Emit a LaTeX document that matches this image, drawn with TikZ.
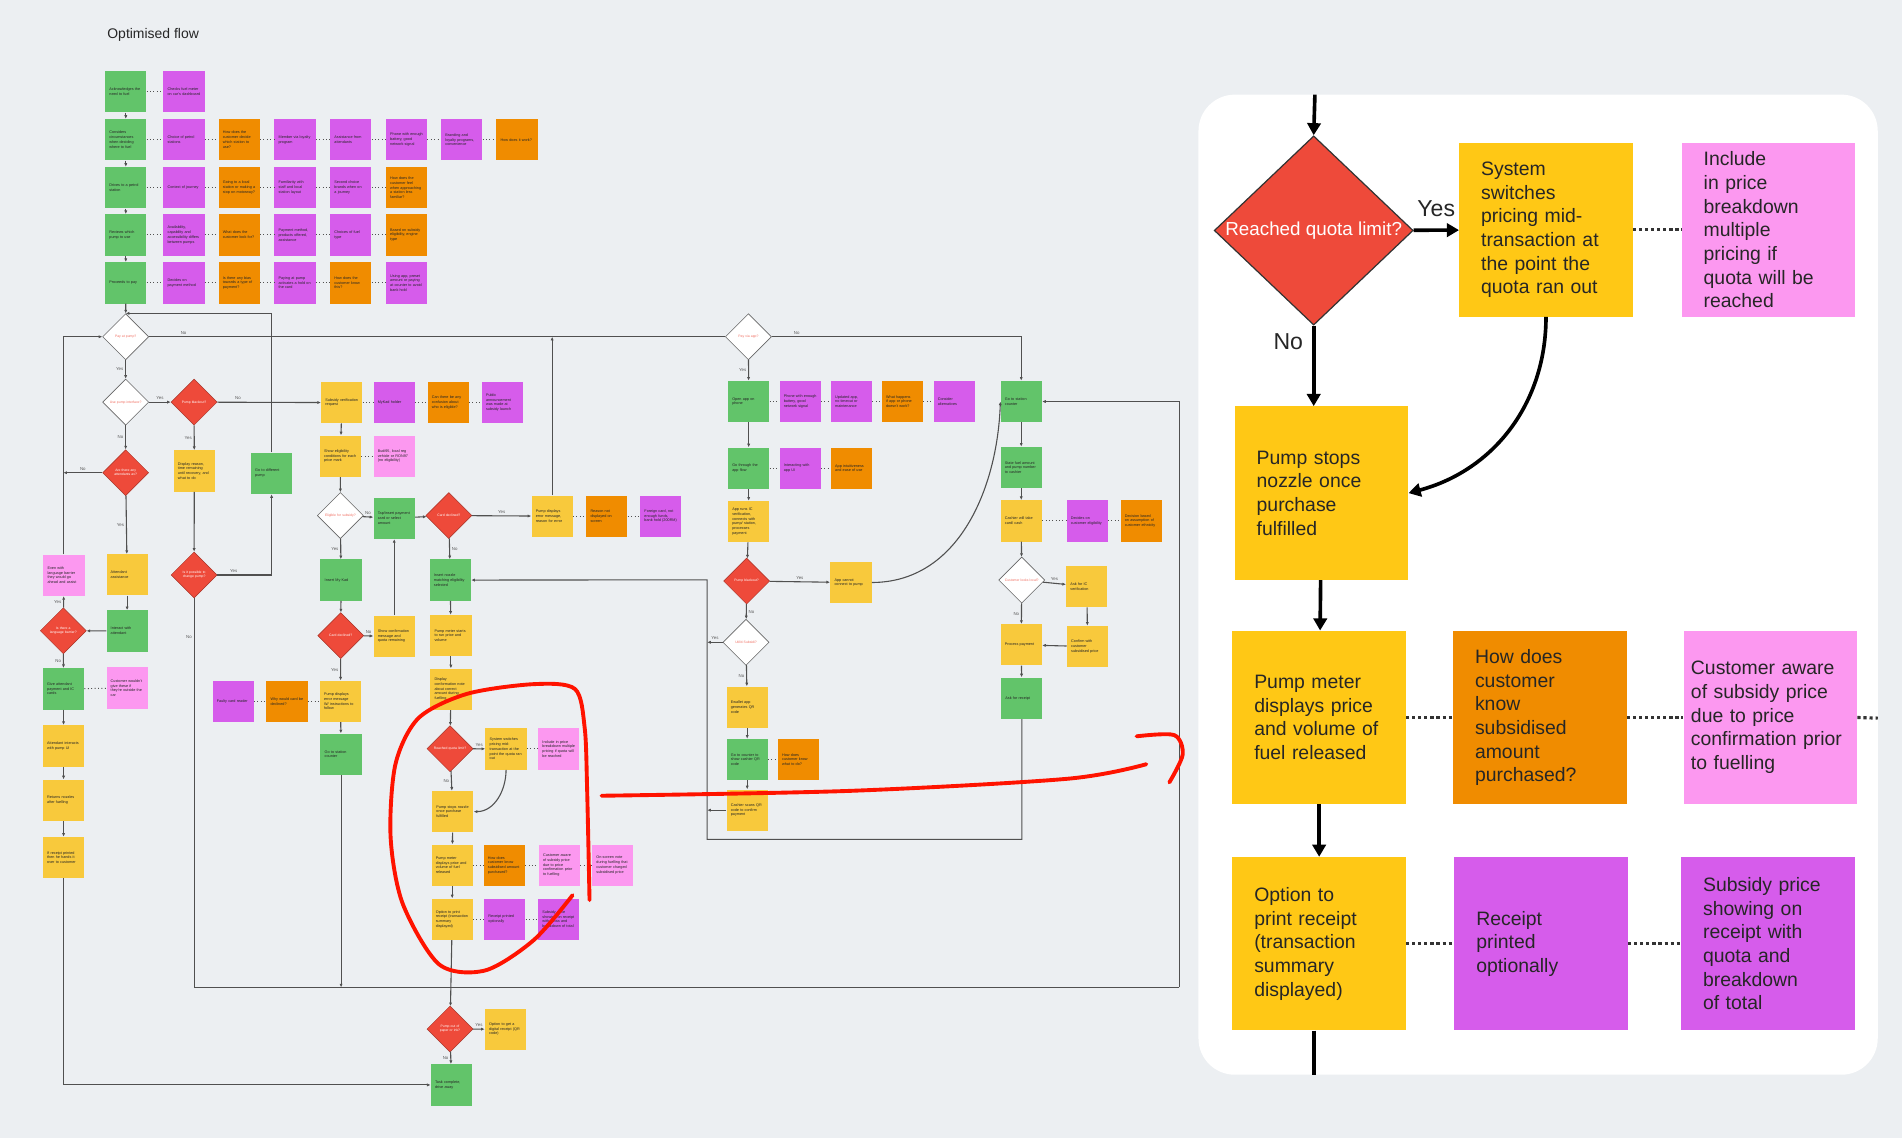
\documentclass[tikz,border=0pt]{standalone}
\usepackage{fontspec}
\setmainfont{Liberation Sans}
\usetikzlibrary{shapes.geometric,arrows.meta}
\hyphenpenalty=10000
\exhyphenpenalty=0
\definecolor{bgc}{HTML}{ECEFF2}
\definecolor{gr}{HTML}{62C46A}
\definecolor{pu}{HTML}{D65CEB}
\definecolor{og}{HTML}{F08C00}
\definecolor{pk}{HTML}{FC98F0}
\definecolor{ye}{HTML}{F8C93C}
\definecolor{yb}{HTML}{FFC815}
\definecolor{rd}{HTML}{EE4A3A}
\definecolor{ln}{HTML}{505050}
\tikzset{
  note/.style={anchor=north west, minimum width=34, minimum height=34, text width=27, inner xsep=3.5, inner ysep=1,
    align=left, font=\fontsize{3.1}{3.9}\selectfont\raggedright, text=black!85},
  dia/.style={diamond, minimum width=38, minimum height=38, inner sep=0},
  wdia/.style={dia, fill=white, draw=gray!80!black, line width=0.5,
    label={[font=\fontsize{2.8}{3.4}\selectfont, text=rd!80, align=center, text width=30]center:#1}},
  rdia/.style={dia, fill=rd, draw=rd!70!black, line width=0.4,
    label={[font=\fontsize{2.8}{3.4}\selectfont, text=white, align=center, text width=32]center:#1}},
  flow/.style={draw=ln, line width=0.9, -{Latex[length=3pt,width=2.6pt]}},
  wire/.style={draw=ln, line width=0.9},
  dots/.style={draw=ln, line width=0.8, dotted},
  lbl/.style={font=\fontsize{3.6}{4}\selectfont, text=gray!70!black, inner sep=1.5},
  big/.style={minimum height=143, minimum width=143, text width=107, inner xsep=18, align=left,
    font=\fontsize{16}{19.5}\selectfont\raggedright, text=black!85},
  bigflow/.style={draw=black, line width=3, -{Triangle[length=10pt,width=11pt]}},
  bigdots/.style={draw=black!80, line width=2.6, dash pattern=on 2.6pt off 2.4pt},
  redpen/.style={draw=red!85!orange, line width=3.2, line cap=round, line join=round},
}
\newcommand{\nt}[5]{\node[note, fill=#4] (#1) at (#2,#3) {#5};}
\begin{document}
\begin{tikzpicture}[x=1pt, y=-1pt]
  \useasboundingbox (0,0) rectangle (1568,938);
  \fill[bgc] (0,0) rectangle (1568,938);
  \fill[white, rounded corners=30] (988,78) rectangle (1548,886);
  \node[anchor=west, font=\fontsize{11.5}{13}\selectfont, text=black!85] (title) at (85,29) {Optimised flow};

  % journey rows
  \nt{a1}{86.5}{58.5}{gr}{Acknowledges the need to fuel}
  \nt{a2}{134.5}{58.5}{pu}{Checks fuel meter on car's dashboard}
  \nt{b1}{86.5}{98}{gr}{Considers circumstances when deciding where to fuel}
  \nt{b2}{134.5}{98}{pu}{Choice of petrol stations}
  \nt{b3}{180}{98}{og}{How does the customer decide which station to use?}
  \nt{b4}{226}{98}{pu}{Member via loyalty program}
  \nt{b5}{272}{98}{pu}{Assistance from attendants}
  \nt{b6}{318}{98}{pu}{Phone with enough battery, good network signal}
  \nt{b7}{363.5}{98}{pu}{Branding and loyalty programs, convenience}
  \nt{b8}{409}{98}{og}{How does it work?}
  \nt{c1}{86.5}{137.5}{gr}{Drives to a petrol station}
  \nt{c2}{134.5}{137.5}{pu}{Context of journey}
  \nt{c3}{180}{137.5}{og}{Going to a local station or making a stop on motorway?}
  \nt{c4}{226}{137.5}{pu}{Familiarity with staff and local station layout}
  \nt{c5}{272}{137.5}{pu}{Second choice brands when on a journey}
  \nt{c6}{318}{137.5}{og}{How does the customer feel when approaching a station less familiar?}
  \nt{d1}{86.5}{176.5}{gr}{Reviews which pump to use}
  \nt{d2}{134.5}{176.5}{pu}{Availability, capability and accessibility differs between pumps}
  \nt{d3}{180}{176.5}{og}{What does the customer look for?}
  \nt{d4}{226}{176.5}{pu}{Payment method, products offered, assistance}
  \nt{d5}{272}{176.5}{pu}{Choices of fuel type}
  \nt{d6}{318}{176.5}{og}{Based on subsidy eligibility, engine type}
  \nt{e1}{86.5}{216}{gr}{Proceeds to pay}
  \nt{e2}{134.5}{216}{pu}{Decides on payment method}
  \nt{e3}{180}{216}{og}{Is there any bias towards a type of payment?}
  \nt{e4}{226}{216}{pu}{Paying at pump activates a hold on the card}
  \nt{e5}{272}{216}{og}{How does the customer know this?}
  \nt{e6}{318}{216}{pu}{Using app, preset amount or paying at counter to avoid bank hold}

  % decisions
  \node[wdia={Pay at pump?}] (paypump) at (103.6,277.6) {};
  \node[wdia={Use pump interface?}] (usepump) at (103.6,331.5) {};
  \node[rdia={Pump blackout?}] (blackout) at (160,331.5) {};
  \node[rdia={Are there any attendants av?}] (attend) at (103.6,389.7) {};
  \node[rdia={Is it possible to change pump?}] (change) at (160,474) {};
  \node[rdia={Is there a language barrier?}] (lang) at (52.2,520) {};
  \node[wdia={Eligible for subsidy?}] (eligible) at (280.6,425) {};
  \node[rdia={Card declined?}] (declinedA) at (370,425) {};
  \node[rdia={Card declined?}] (declinedB) at (280.9,524) {};
  \node[rdia={Reached quota limit?}] (quota) at (371,617.2) {};
  \node[rdia={Pump out of paper or ink?}] (paper) at (371,848.3) {};
  \node[wdia={Pay via app?}] (payapp) at (617,277.6) {};
  \node[rdia={Pump blackout?}] (blackapp) at (615.5,479) {};
  \node[wdia={Utiliti Subsidi?}] (utiliti) at (615,529.5) {};
  \node[wdia={Customer looks local?}] (local) at (842.3,478.2) {};

  % pump and attendant
  \nt{reason}{143}{371}{ye}{Display reason, time remaining until recovery, and what to do}
  \nt{diffpump}{206.7}{373}{gr}{Go to different pump}
  \nt{assist}{87.6}{456.7}{ye}{Attendant assistance}
  \nt{barrier}{35.5}{457}{pk}{Even with language barrier they would go ahead and assist}
  \nt{interact}{87.6}{503}{gr}{Interact with attendant}
  \nt{give}{35.2}{550.7}{gr}{Give attendant payment and IC cards}
  \nt{wouldnt}{87.6}{550}{pk}{Customer wouldn't give these if they're outside the car}
  \nt{uiattend}{35.2}{597.7}{ye}{Attendant interacts with pump UI}
  \nt{nozzles}{35.2}{642.5}{ye}{Returns nozzles after fuelling}
  \nt{handover}{35.2}{689.8}{ye}{If receipt printed then he hands it over to customer}
  \nt{faulty}{175}{561}{pu}{Faulty card reader}
  \nt{whydecl}{219.3}{561}{og}{Why would card be declined?}
  \nt{errwi}{263.5}{561}{ye}{Pump displays error message W/ instructions to follow}
  \nt{countA}{264}{604.6}{gr}{Go to station counter}

  % subsidy
  \nt{subsidy}{264.6}{314.7}{ye}{Subsidy verification request}
  \nt{mykad}{307.8}{314.7}{pu}{MyKad holder}
  \nt{confusion}{352.3}{314.7}{og}{Can there be any confusion about who is eligible?}
  \nt{public}{397}{314.7}{pu}{Public announcement was made at subsidy launch}
  \nt{showelig}{263.5}{358.9}{ye}{Show eligibility conditions for each price mark}
  \nt{budi}{307.8}{358.9}{pk}{Budi95, local reg vehicle or RON97 (no eligibility)}
  \nt{tap}{307.8}{410}{gr}{Tap/insert payment card or select amount}
  \nt{errreason}{438}{408.3}{ye}{Pump displays error message, reason for error}
  \nt{notdisp}{483.1}{408.3}{og}{Reason not displayed on screen}
  \nt{foreign}{527.6}{408.3}{pu}{Foreign card, not enough funds, bank hold (200RM)}
  \nt{inskad}{264}{461}{gr}{Insert My Kad}
  \nt{insnoz}{354}{461}{gr}{Insert nozzle matching eligibility selected}
  \nt{showconf}{307.8}{507.3}{ye}{Show confirmation message and quota remaining}
  \nt{meterrun}{354.5}{506.8}{ye}{Pump meter starts to run price and volume}
  \nt{conform}{354.5}{551}{ye}{Display conformation note about correct amount during fuelling}
  \nt{switch}{400}{600.2}{ye}{System switches pricing mid-transaction at the point the quota ran out}
  \nt{include}{443.5}{600.2}{pk}{Include in price breakdown multiple pricing if quota will be reached}
  \nt{stops}{356.1}{651.9}{ye}{Pump stops nozzle once purchase fulfilled}
  \nt{meterdisp}{355.6}{696}{ye}{Pump meter displays price and volume of fuel released}
  \nt{howknow}{398.5}{696}{og}{How does customer know subsidised amount purchased?}
  \nt{aware}{444}{696}{pk}{Customer aware of subsidy price due to price confirmation prior to fuelling}
  \nt{onscreen}{488}{696}{pk}{On-screen note during fuelling that customer charged subsidised price}
  \nt{printopt}{355.6}{740.6}{ye}{Option to print receipt (transaction summary displayed)}
  \nt{printed}{399}{740.6}{pu}{Receipt printed optionally}
  \nt{shown}{443.5}{740.6}{pu}{Subsidy price showing on receipt with quota and breakdown of total}
  \nt{digital}{399.6}{831.3}{ye}{Option to get a digital receipt (QR code)}
  \nt{task}{355}{877.2}{gr}{Task complete, drive away}

  % app and counter
  \nt{openapp}{600}{313.8}{gr}{Open app on phone}
  \nt{battery}{642.5}{313.8}{pu}{Phone with enough battery, good network signal}
  \nt{updated}{684.8}{313.8}{pu}{Updated app, no timeout or maintenance}
  \nt{whathap}{726.8}{313.8}{og}{What happens if app or phone doesn't work?}
  \nt{consider}{769.4}{313.8}{pu}{Consider alternatives}
  \nt{appflow}{600}{368.8}{gr}{Go through the app flow}
  \nt{appui}{642.5}{368.8}{pu}{Interacting with app UI}
  \nt{intuit}{684.8}{368.8}{og}{App intuitiveness and ease of use}
  \nt{appruns}{600}{412.8}{ye}{App runs IC verification, connects with pump/ station, processes payment}
  \nt{cannot}{684.3}{463}{ye}{App cannot connect to pump}
  \nt{ewallet}{598.8}{565.8}{ye}{Ewallet app generates QR code}
  \nt{gocounter}{598.8}{609}{gr}{Go to counter to show cashier QR code}
  \nt{whatdo}{641.1}{609}{og}{How does customer know what to do?}
  \nt{scans}{598.8}{650.7}{ye}{Cashier scans QR code to confirm payment}
  \nt{countB}{824.7}{313.8}{gr}{Go to station counter}
  \nt{state}{824.7}{368.2}{gr}{State fuel amount and pump number to cashier}
  \nt{cashier}{824.7}{412.2}{ye}{Cashier will take card/ cash}
  \nt{decides}{879.1}{412.2}{pu}{Decides on customer eligibility}
  \nt{ethnic}{923.6}{412.2}{og}{Decision based on assumption of customer ethnicity}
  \nt{askic}{878.8}{466.3}{ye}{Ask for IC verification}
  \nt{confirm}{879.4}{515.8}{ye}{Confirm with customer subsidised price}
  \nt{process}{824.7}{514.4}{ye}{Process payment}
  \nt{receipt}{825.2}{558.4}{gr}{Ask for receipt}

  \coordinate (lowR) at (972,814);
  \coordinate (merge) at (583,478);
  \coordinate (mergeB) at (583,692);

  \foreach \p/\q in {a1/a2, b1/b2, b2/b3, b3/b4, b4/b5, b5/b6, b6/b7, b7/b8,
    c1/c2, c2/c3, c3/c4, c4/c5, c5/c6, d1/d2, d2/d3, d3/d4, d4/d5, d5/d6,
    e1/e2, e2/e3, e3/e4, e4/e5, e5/e6, give/wouldnt, faulty/whydecl, whydecl/errwi,
    subsidy/mykad, mykad/confusion, confusion/public, showelig/budi,
    errreason/notdisp, notdisp/foreign, switch/include, meterdisp/howknow,
    howknow/aware, aware/onscreen, printopt/printed, printed/shown,
    openapp/battery, battery/updated, updated/whathap, whathap/consider,
    appflow/appui, appui/intuit, cashier/decides, decides/ethnic, gocounter/whatdo}
    \draw[dots] (\p) -- (\q);

  \foreach \p/\q in {a1/b1, b1/c1, c1/d1, d1/e1, e1/paypump, reason/change, assist/interact,
    interact/lang, give/uiattend, uiattend/nozzles, nozzles/handover, errwi/countA,
    subsidy/showelig, showelig/eligible, inskad/declinedB, tap/declinedA,
    insnoz/meterrun, meterrun/conform, conform/quota, stops/meterdisp, meterdisp/printopt,
    printopt/paper, openapp/appflow, appflow/appruns, appruns/blackapp, ewallet/gocounter,
    gocounter/scans, countB/state, state/cashier, cashier/local, askic/confirm,
    confirm/process, process/receipt}
    \draw[flow] (\p) -- (\q);

  \draw[flow] (paypump) -- node[lbl, left] {Yes} (usepump);
  \draw[flow] (usepump) -- node[lbl, above] {Yes} (blackout);
  \draw[flow] (usepump) -- node[lbl, left] {No} (attend);
  \draw[flow] (blackout) -- node[lbl, above, pos=0.2] {No} (subsidy);
  \draw[flow] (blackout) -- node[lbl, left] {Yes} (reason);
  \draw[flow] (change) -- node[lbl, above, pos=0.3] {Yes} (change -| diffpump) -- (diffpump);
  \draw[flow] (diffpump) |- (paypump.north);
  \draw[flow] (attend) -- node[lbl, left] {Yes} (assist);
  \draw[flow] (attend.west) -- node[lbl, above] {No} (attend.west -| lang);
  \draw[flow] (lang) -- node[lbl, left] {Yes} (barrier);
  \draw[flow] (barrier) |- (paypump.west);
  \draw[flow] (lang) -- node[lbl, left] {No} (give);
  \draw[flow] (handover) |- (task);
  \draw[wire] (change) -- node[lbl, left, pos=0.1] {No} (change |- lowR) -- (lowR);
  \draw[flow] (lowR) |- (countB.east);
  \draw[flow] (countA) -- (countA |- lowR);
  \draw[flow] (eligible) -- node[lbl, above] {No} (tap);
  \draw[flow] (eligible) -- node[lbl, left] {Yes} (inskad);
  \draw[flow] (declinedB) -- node[lbl, above] {No} (showconf);
  \draw[flow] (showconf) -- (tap);
  \draw[flow] (declinedB) -- node[lbl, left] {Yes} (errwi);
  \draw[flow] (declinedA) -- node[lbl, above] {Yes} (errreason);
  \draw[flow] (declinedA) -- node[lbl, right] {No} (insnoz);
  \draw[flow] (errreason) -- (errreason |- paypump);
  \draw[flow] (quota) -- node[lbl, above] {Yes} (switch);
  \draw[flow] (quota) -- node[lbl, left] {No} (stops);
  \draw[flow] (switch.south) to[out=-90, in=0] (stops.east);
  \draw[flow] (paper) -- node[lbl, above] {Yes} (digital);
  \draw[flow] (paper) -- node[lbl, left] {No} (task);
  \draw[wire] (paypump) -- node[lbl, above, pos=0.06] {No} (payapp);
  \draw[flow] (payapp) -| node[lbl, above, pos=0.05] {No} (countB);
  \draw[flow] (payapp) -- node[lbl, left] {Yes} (openapp);
  \draw[flow] (blackapp) -- node[lbl, above] {Yes} (cannot);
  \draw[flow] (cannot.east) to[out=0, in=-92] (countB.west);
  \draw[flow] (blackapp) -- node[lbl, right] {No} (utiliti);
  \draw[flow] (utiliti) -- node[lbl, above] {Yes} (utiliti -| merge);
  \draw[flow] (utiliti) -- node[lbl, left] {No} (ewallet);
  \draw[flow] (scans) -- (scans -| merge);
  \draw[flow] (local) -- node[lbl, above] {Yes} (askic);
  \draw[flow] (local) -- node[lbl, left] {No} (process);
  \draw[flow] (receipt) |- (mergeB) -- (merge) -- (insnoz.east);

  % close-up panel
  \coordinate (topR) at (1084,78);
  \coordinate (endR) at (1083,886);
  \coordinate (edgeR) at (1548,592);
  \node[diamond, fill=rd, draw=black!80, line width=1, minimum width=164, minimum height=156, inner sep=0,
    label={[font=\fontsize{15.5}{18}\selectfont, text=white]center:Reached quota limit?}] (quotaR) at (1083,190) {};
  \node[big, fill=yb] (swR) at (1274.5,189.5) {System switches pricing mid-transaction at the point the quota ran out};
  \node[big, fill=pk] (incR) at (1458,189.5) {Include in price breakdown multiple pricing if quota will be reached};
  \node[big, fill=yb] (stopR) at (1089.5,406.5) {Pump stops nozzle once purchase fulfilled};
  \node[big, fill=yb] (meterR) at (1087.5,591.5) {Pump meter displays price and volume of fuel released};
  \node[big, fill=og] (howR) at (1269.5,591.5) {How does customer know subsidised amount purchased?};
  \node[big, fill=pk, text width=131, inner xsep=6] (awareR) at (1459.5,591.5) {Customer aware of subsidy price due to price confirmation prior to fuelling};
  \node[big, fill=yb] (printR) at (1087.5,778) {Option to print receipt (transaction summary displayed)};
  \node[big, fill=pu] (printedR) at (1270.5,778) {Receipt printed optionally};
  \node[big, fill=pu] (shownR) at (1457.5,778) {Subsidy price showing on receipt with quota and breakdown of total};

  \draw[bigflow] (topR) -- (quotaR.north);
  \draw[bigflow] (quotaR) -- node[above=6, font=\fontsize{19}{22}\selectfont, text=black!85] {Yes} (swR);
  \draw[bigflow] (quotaR.south) -- node[left=4, pos=0.2, font=\fontsize{19}{22}\selectfont, text=black!85] {No} (quotaR.south |- stopR.north);
  \draw[bigflow] (swR.south) to[out=-90, in=15] (stopR.east);
  \draw[bigflow] (stopR) -- (meterR);
  \draw[bigflow] (meterR) -- (printR);
  \draw[draw=black, line width=3] (printR.south -| endR) -- (endR);
  \foreach \p/\q in {swR/incR, meterR/howR, howR/awareR, printR/printedR, printedR/shownR}
    \draw[bigdots] (\p) -- (\q);
  \draw[bigdots] (awareR.east) -- (edgeR);

  % hand-drawn marks
  \draw[redpen] plot[smooth] coordinates {(472,738) (440,775) (400,800) (362,795) (332,745)
    (322,690) (326,630) (345,592) (385,572) (440,564) (474,568) (482,600) (484,650) (486,742)};
  \draw[redpen] plot[smooth] coordinates {(496,656) (700,652) (880,642) (945,630)};
  \draw[redpen] plot[smooth] coordinates {(937,607) (968,606) (975,622) (964,645)};
\end{tikzpicture}
\end{document}
